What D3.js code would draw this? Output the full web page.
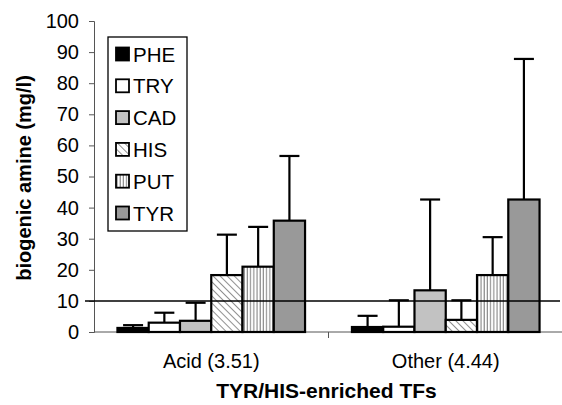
<!DOCTYPE html>
<html>
<head>
<meta charset="utf-8">
<script src="https://cdn.jsdelivr.net/npm/d3@7"></script>
<style>
  body { margin: 0; background: #fff; }
  text { font-family: "Liberation Sans", Arial, sans-serif; fill: #000; }
</style>
</head>
<body>
<div id="chart"></div>
<script>
const groups = ['Acid (3.51)', 'Other (4.44)']
const amines = ['PHE', 'TRY', 'CAD', 'HIS', 'PUT', 'TYR']
// mean values per group, in amine order
const acidMeans = [1.3, 3.0, 3.6, 18.3, 21.0, 35.8]
const otherMeans = [1.6, 1.7, 13.4, 3.9, 18.3, 42.6]
// upper error (sd) per group
const acidSd = [0.9, 3.2, 5.8, 13.0, 12.8, 20.8]
const otherSd = [3.6, 8.5, 29.2, 6.3, 12.2, 45.2]
const yTicks = [0, 10, 20, 30, 40, 50, 60, 70, 80, 90, 100]
const refLine = 10

const width = 562
const height = 405
const margin = { left: 94, right: 0, top: 21, bottom: 73 }

const svg = d3.select('#chart').append('svg')
  .attr('width', width).attr('height', height)

const defs = svg.append('defs')
const diag = defs.append('pattern').attr('id', 'diag')
  .attr('patternUnits', 'userSpaceOnUse').attr('width', 5).attr('height', 5)
  .attr('patternTransform', 'rotate(-45)')
diag.append('rect').attr('width', 5).attr('height', 5).attr('fill', '#fff')
diag.append('line').attr('x1', 0).attr('y1', 0).attr('x2', 0).attr('y2', 5)
  .attr('stroke', '#555').attr('stroke-width', 1.3)
const vert = defs.append('pattern').attr('id', 'vert')
  .attr('patternUnits', 'userSpaceOnUse').attr('width', 3.2).attr('height', 4)
vert.append('rect').attr('width', 3.2).attr('height', 4).attr('fill', '#fff')
vert.append('line').attr('x1', 1).attr('y1', 0).attr('x2', 1).attr('y2', 4)
  .attr('stroke', '#777').attr('stroke-width', 1)

const fills = ['#000', '#fff', '#c2c2c2', 'url(#diag)', 'url(#vert)', '#999']

const x0 = d3.scaleBand().domain(groups).range([margin.left, 563])
const x1 = d3.scaleBand().domain(amines)
  .range([x0.bandwidth() * 0.1, x0.bandwidth() * 0.9])
const y = d3.scaleLinear().domain([0, 100]).range([332, margin.top])

// y axis
const yAxis = svg.append('g').attr('transform', `translate(${margin.left},0)`)
  .call(d3.axisLeft(y).tickValues(yTicks).tickSize(5).tickPadding(10))
yAxis.select('.domain').attr('stroke', '#555')
yAxis.selectAll('.tick line').attr('stroke', '#555')
yAxis.selectAll('text').attr('font-size', 20).attr('font-family', '"Liberation Sans", Arial, sans-serif')

// x axis
const xAxis = svg.append('g').attr('transform', `translate(0,${y(0)})`)
xAxis.append('line').attr('x1', margin.left).attr('x2', 562)
  .attr('stroke', '#555')
xAxis.append('line').attr('x1', x0(groups[1])).attr('x2', x0(groups[1]))
  .attr('y1', 0).attr('y2', 6).attr('stroke', '#555')

xAxis.selectAll('text.cat').data(groups).enter().append('text')
  .attr('class', 'cat')
  .attr('x', d => x0(d) + x0.bandwidth() / 2)
  .attr('y', 36)
  .attr('text-anchor', 'middle')
  .attr('font-size', 20)
  .text(d => d)

const series = [acidMeans, otherMeans]
const sds = [acidSd, otherSd]
const rows = []
groups.forEach((g, gi) => {
  amines.forEach((a, ai) => {
    rows.push({ g, a, ai, v: series[gi][ai], sd: sds[gi][ai] })
  })
})

// error bars
const err = svg.append('g').attr('stroke', '#000').attr('stroke-width', 2.2)
rows.forEach(d => {
  const cx = x0(d.g) + x1(d.a) + x1.bandwidth() / 2
  err.append('line').attr('x1', cx).attr('x2', cx)
    .attr('y1', y(d.v)).attr('y2', y(d.v + d.sd))
  err.append('line').attr('x1', cx - 10).attr('x2', cx + 10)
    .attr('y1', y(d.v + d.sd)).attr('y2', y(d.v + d.sd))
})

// bars
svg.append('g').selectAll('rect').data(rows).enter().append('rect')
  .attr('x', d => x0(d.g) + x1(d.a))
  .attr('y', d => y(d.v))
  .attr('width', x1.bandwidth())
  .attr('height', d => y(0) - y(d.v))
  .attr('fill', d => fills[d.ai])
  .attr('stroke', '#000')
  .attr('stroke-width', 2.2)

// reference line at 10
svg.append('line')
  .attr('x1', 85).attr('x2', 560)
  .attr('y1', y(refLine)).attr('y2', y(refLine))
  .attr('stroke', '#000').attr('stroke-width', 1.5)

// legend
const legend = svg.append('g').attr('transform', 'translate(108,37)')
legend.append('rect').attr('width', 79).attr('height', 194)
  .attr('fill', '#fff').attr('stroke', '#000').attr('stroke-width', 1.3)
const item = legend.selectAll('g.item').data(amines).enter().append('g')
  .attr('class', 'item')
  .attr('transform', (d, i) => `translate(8,${17 + i * 31.8})`)
item.append('rect').attr('x', 0).attr('y', -6.5).attr('width', 13).attr('height', 13)
  .attr('fill', (d, i) => fills[i]).attr('stroke', '#000').attr('stroke-width', 1.8)
item.append('text').attr('x', 17).attr('y', 7.5).attr('font-size', 20.5).text(d => d)

// axis titles
svg.append('text')
  .attr('x', x0.range()[0] + (x0.range()[1] - x0.range()[0]) / 2 - 2)
  .attr('y', 398)
  .attr('text-anchor', 'middle')
  .attr('font-size', 21).attr('font-weight', 'bold')
  .text('TYR/HIS-enriched TFs')

svg.append('text')
  .attr('transform', 'translate(31,178) rotate(-90)')
  .attr('text-anchor', 'middle')
  .attr('font-size', 20).attr('font-weight', 'bold')
  .text('biogenic amine (mg/l)')
</script>
</body>
</html>
